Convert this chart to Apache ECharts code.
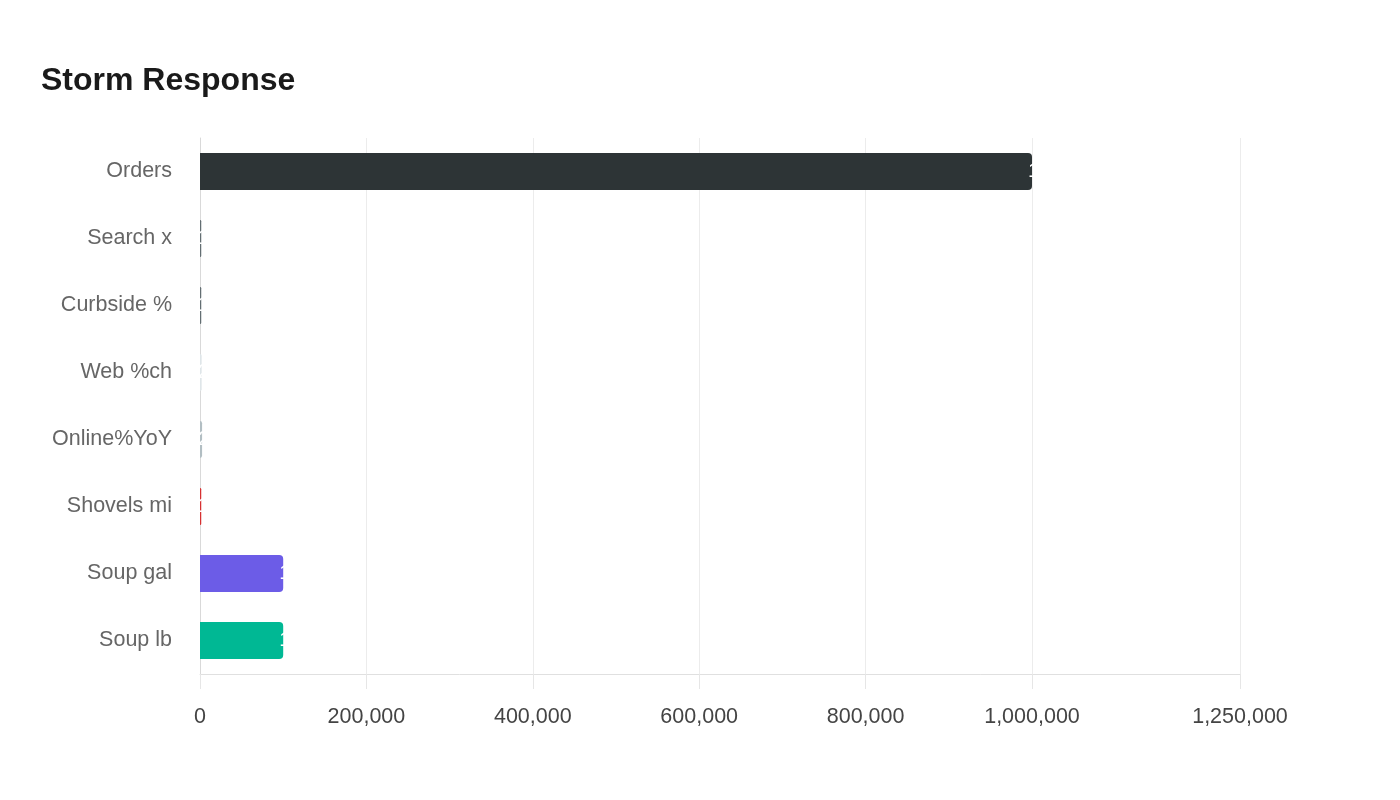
<!DOCTYPE html>
<html>
	<head>
		<title>Storm Response</title>
		<meta charset="utf-8">
		<style>
html, body {
	width: 100%;
	height: 100%;
	margin: 0;
	background: #fff;
}
				#box1 {
					width: 1400px;
					height: 800px;
				}
		</style>
	</head>
	<body>
		<div id="box1"></div>
	</body>
	<script src="https://cdn.jsdelivr.net/npm/echarts@6/dist/echarts.min.js"></script>
	<script type="text/javascript">
// categories, top to bottom
var categories = ['Orders', 'Search x', 'Curbside %', 'Web %ch', 'Online%YoY', 'Shovels mi', 'Soup gal', 'Soup lb'];
var values = [1000000, 1500, 1500, 2000, 2500, 1500, 100000, 100000];
var barColors = ['#2d3436', '#636e72', '#636e72', '#dfe6e9', '#b2bec3', '#d63031', '#6c5ce7', '#00b894'];
var tickValues = [0, 200000, 400000, 600000, 800000, 1000000, 1250000];
var axisMax = 1250000;

var fontName = 'Arial, "Liberation Sans", sans-serif';

var myChart = echarts.init(document.getElementById('box1'));

var barData = values.map(function (v, i) {
	return { value: v, itemStyle: { color: barColors[i] } };
});

var option = {
	backgroundColor: '#fff',
	animation: false,
	title: {
		text: 'Storm Response',
		left: 36,
		top: 60,
		textStyle: {
			fontFamily: fontName,
			fontSize: 32,
			fontWeight: 'bold',
			color: '#1a1a1a'
		}
	},
	grid: {
		left: 200,
		right: 160,
		top: 138,
		bottom: 126
	},
	xAxis: {
		type: 'value',
		min: 0,
		max: axisMax,
		axisLine: { show: true, lineStyle: { color: '#e0e0e0' } },
		axisTick: { show: true, length: 15, customValues: tickValues, lineStyle: { color: '#e6e6e6' } },
		splitLine: { show: true, lineStyle: { color: '#ececec' } },
		axisLabel: {
			margin: 32,
			customValues: tickValues,
			fontFamily: fontName,
			fontSize: 21.5,
			color: '#444',
			formatter: function (v) { return v.toLocaleString('en-US'); }
		}
	},
	yAxis: {
		type: 'category',
		inverse: true,
		data: categories,
		axisLine: { show: true, lineStyle: { color: '#d9d9d9' } },
		axisTick: { show: false },
		axisLabel: {
			margin: 28,
			fontFamily: fontName,
			fontSize: 21.5,
			color: '#666',
			lineHeight: 28,
			verticalAlign: 'middle'
		}
	},
	series: [{
		type: 'bar',
		data: barData,
		barWidth: '55%',
		itemStyle: { borderRadius: [0, 4, 4, 0] },
		label: {
			show: true,
			position: 'right',
			distance: 0,
			offset: [-4, 0],
			color: '#fff',
			fontFamily: fontName,
			fontSize: 21,
			formatter: function (p) { return p.value.toLocaleString('en-US'); }
		}
	}]
};

myChart.setOption(option);
	</script>
</html>
